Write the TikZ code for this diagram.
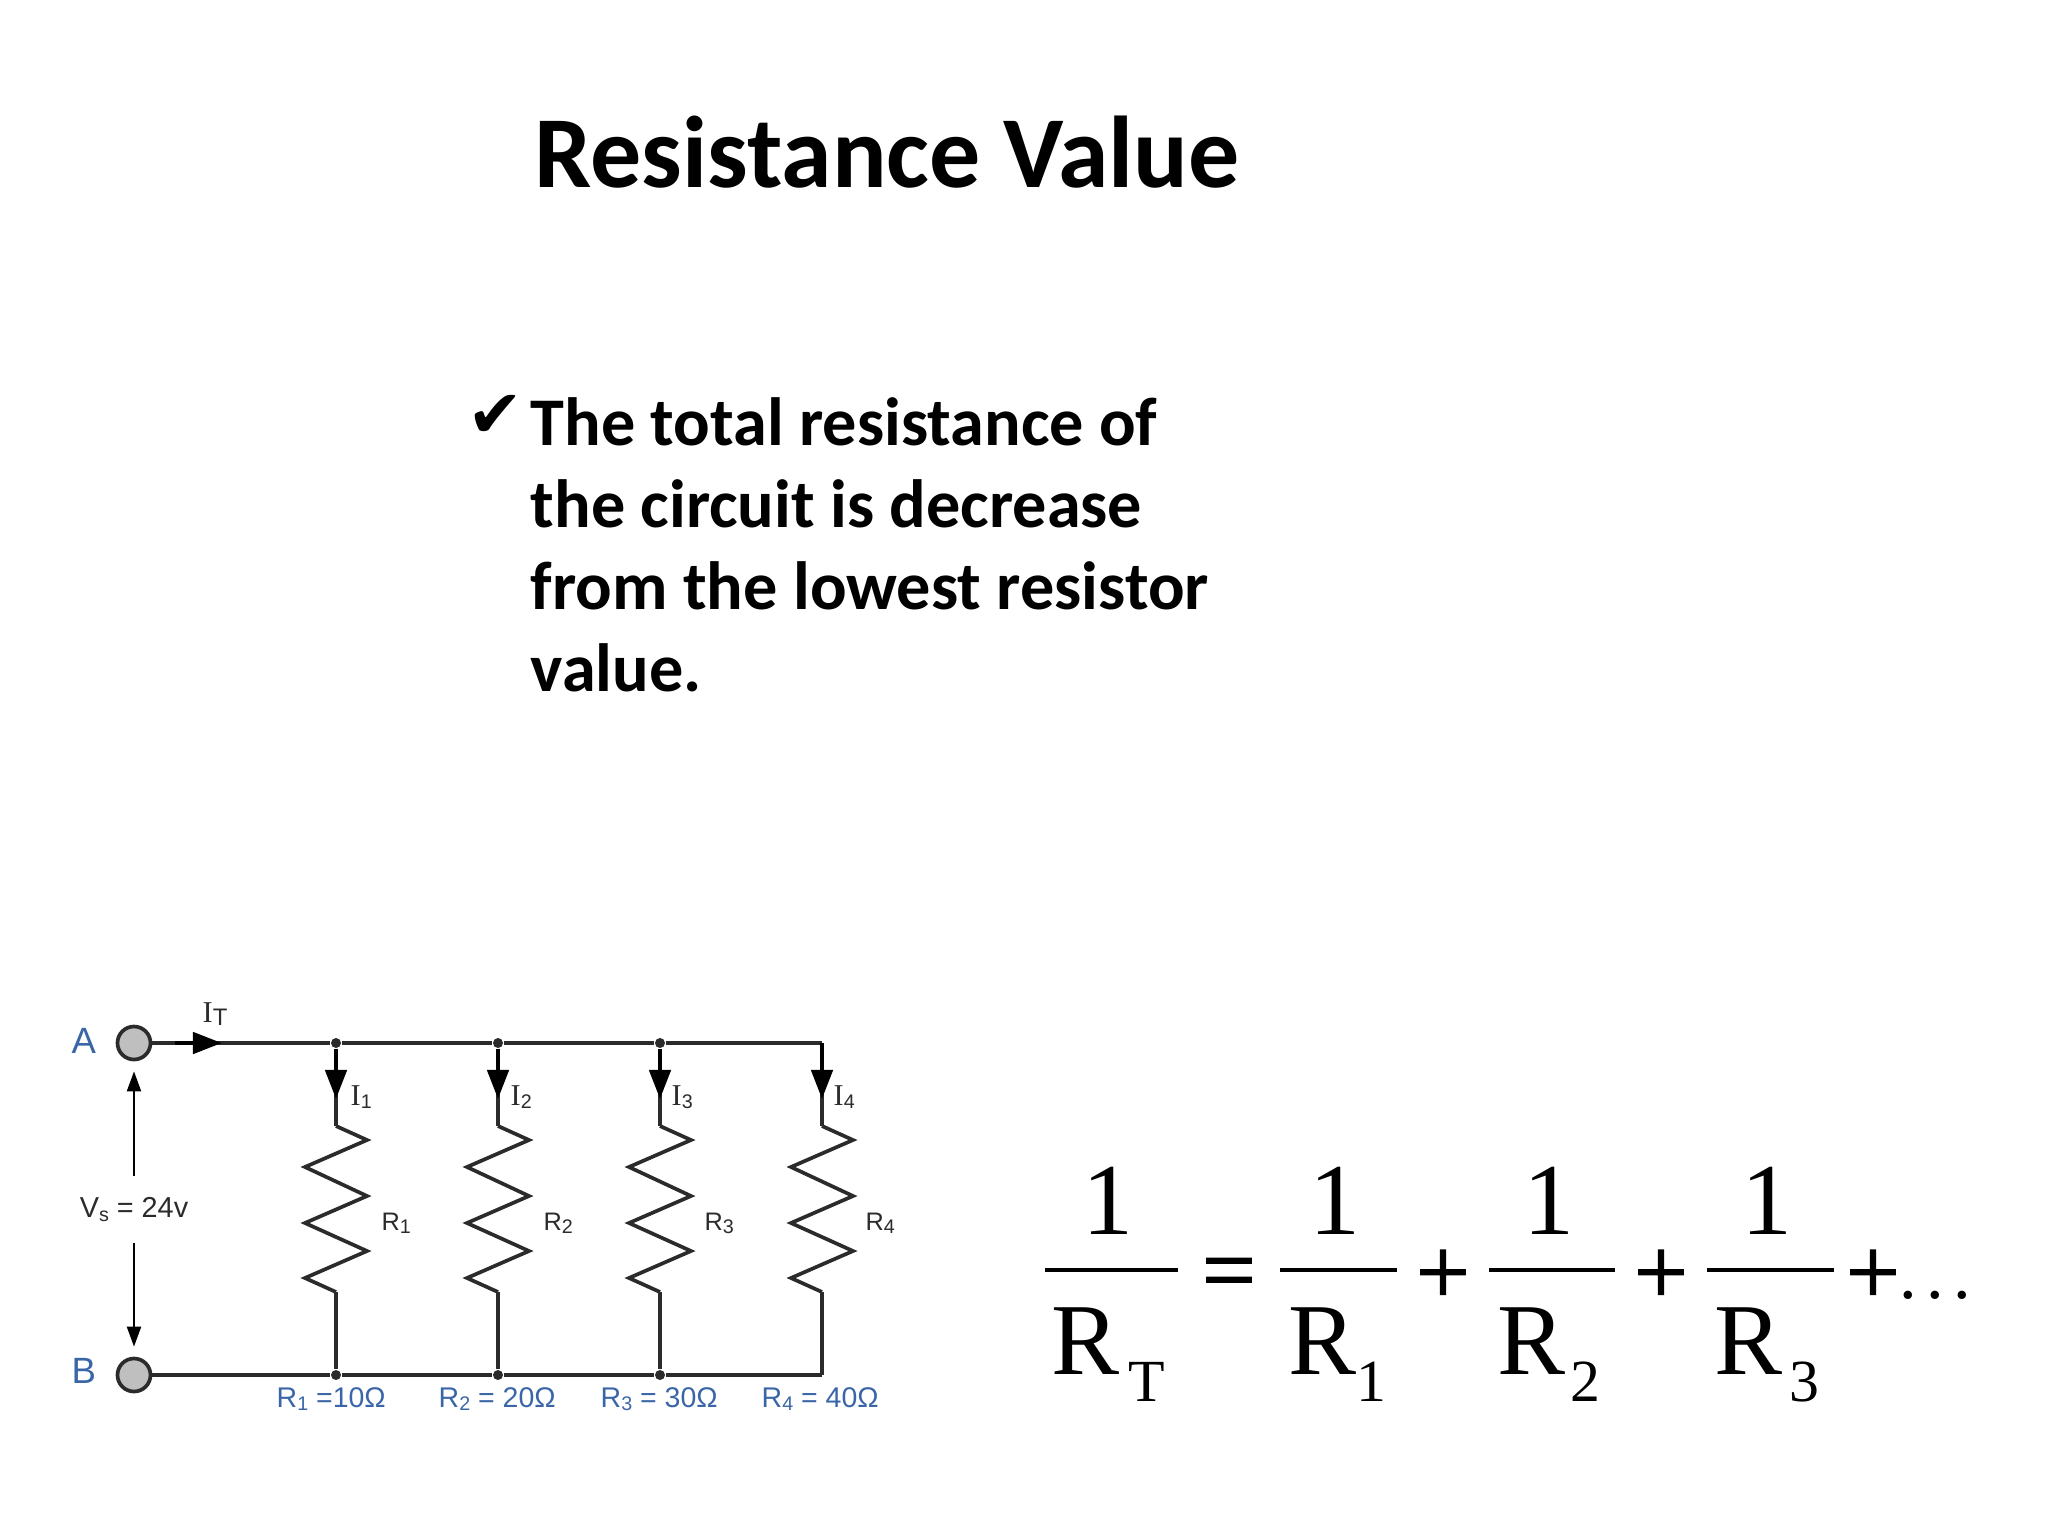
\documentclass[tikz,border=0pt]{standalone}
\usepackage{fontspec}
\setmainfont{Carlito}
\newfontfamily\armfont{Liberation Sans}
\newfontfamily\timesfont{Liberation Serif}
\newfontfamily\opfont[FakeBold=1.6]{Liberation Serif}
\newfontfamily\symfont{DejaVu Sans}
\usetikzlibrary{arrows.meta}
\definecolor{labelblue}{HTML}{3A66A8}
\definecolor{wiredark}{HTML}{2B2B2B}
\newcommand{\lowsub}[1]{\raisebox{-1.1pt}{\fontsize{5.6}{6}\selectfont #1}}
\tikzset{
    lbl/.style={anchor=base west, inner sep=0pt},
    cursor/.style={lbl, text=wiredark, font=\timesfont\fontsize{8.6}{10}\selectfont},
    reslbl/.style={lbl, text=wiredark, font=\armfont\fontsize{7.2}{10}\selectfont},
    vallbl/.style={lbl, text=labelblue, font=\armfont\fontsize{8.1}{10}\selectfont},
    termlbl/.style={lbl, text=labelblue, font=\armfont\fontsize{10.4}{12}\selectfont},
    eqbig/.style={lbl, font=\timesfont\fontsize{29}{30}\selectfont},
    eqsub/.style={lbl, font=\timesfont\fontsize{17}{20}\selectfont},
    eqop/.style={inner sep=0pt, font=\opfont\fontsize{27}{30}\selectfont},
    fracbar/.style={line width=1.3pt},
    wire/.style={draw=wiredark, line width=1.05pt},
    term/.style={circle, draw=wiredark, fill=gray!50, line width=1.05pt, inner sep=0pt, minimum size=0.33cm},
    dot/.style={circle, fill=wiredark, inner sep=0pt, minimum size=0.1cm},
    currenthead/.style={draw=black, line width=1.3pt, -{Triangle[length=0.29cm,width=0.21cm]}},
    voltarrow/.style={draw=black, line width=0.6pt, shorten >=0.1cm, -{Triangle[length=0.2cm,width=0.14cm]}},
    resistor/.style={to path={-- ++(31,14) -- ++(-62,27) -- ++(62,29) -- ++(-62,27) -- ++(62,28) -- ++(-62,27) -- (\tikztotarget)}}
}
\begin{document}
\begin{tikzpicture}[x=0.01cm, y=-0.01cm]
    \useasboundingbox (0,0) rectangle (2048,1536);

    % Heading and text
    \node[lbl, font=\bfseries\fontsize{29}{32}\selectfont] (title) at (534,187) {Resistance Value};
    \node[lbl, font=\symfont\fontsize{19}{20}\selectfont] (tick) at (467,437) {✔};
    \node[anchor=north west, inner sep=0pt, align=left, font=\bfseries\fontsize{19.4}{23.3}\selectfont] (body) at (530,397) {The total resistance of\\the circuit is decrease\\from the lowest resistor\\value.};

    % Circuit nodes
    \node[term] (A) at (134,1043) {};
    \node[term] (B) at (134,1375) {};
    \node[dot] (top1) at (336,1043) {};
    \node[dot] (top2) at (498,1043) {};
    \node[dot] (top3) at (660,1043) {};
    \node[coordinate] (top4) at (822,1043) {};
    \node[dot] (bot1) at (336,1375) {};
    \node[dot] (bot2) at (498,1375) {};
    \node[dot] (bot3) at (660,1375) {};
    \node[coordinate] (bot4) at (822,1375) {};
    \node[coordinate] (in1) at (336,1126) {};
    \node[coordinate] (in2) at (498,1126) {};
    \node[coordinate] (in3) at (660,1126) {};
    \node[coordinate] (in4) at (822,1126) {};
    \node[coordinate] (out1) at (336,1292) {};
    \node[coordinate] (out2) at (498,1292) {};
    \node[coordinate] (out3) at (660,1292) {};
    \node[coordinate] (out4) at (822,1292) {};
    \node[coordinate] (headT) at (222,1043) {};
    \node[coordinate] (head1) at (336,1099) {};
    \node[coordinate] (head2) at (498,1099) {};
    \node[coordinate] (head3) at (660,1099) {};
    \node[coordinate] (head4) at (822,1099) {};
    \node[coordinate] (startT) at (175,1043) {};
    \node[inner sep=0pt, minimum height=0.65cm, text=wiredark, font=\armfont\fontsize{8.2}{10}\selectfont] (vs) at (134,1209.5) {V\lowsub{s} = 24v};

    % Circuit labels
    \node[termlbl] (labelA) at (71,1053) {A};
    \node[termlbl] (labelB) at (71,1383) {B};
    \node[cursor] (iT) at (202,1022) {I{\armfont\raisebox{-1.1pt}{\fontsize{6.8}{8}\selectfont T}}};
    \node[cursor] (i1) at (350,1105) {I\lowsub{\armfont 1}};
    \node[cursor] (i2) at (510,1105) {I\lowsub{\armfont 2}};
    \node[cursor] (i3) at (671,1105) {I\lowsub{\armfont 3}};
    \node[cursor] (i4) at (833,1105) {I\lowsub{\armfont 4}};
    \node[reslbl] (r1) at (381,1230) {R\lowsub{1}};
    \node[reslbl] (r2) at (543,1230) {R\lowsub{2}};
    \node[reslbl] (r3) at (704,1230) {R\lowsub{3}};
    \node[reslbl] (r4) at (865,1230) {R\lowsub{4}};
    \node[vallbl] (val1) at (276,1407) {R\lowsub{1} =10Ω};
    \node[vallbl] (val2) at (438,1407) {R\lowsub{2} = 20Ω};
    \node[vallbl] (val3) at (600,1407) {R\lowsub{3} = 30Ω};
    \node[vallbl] (val4) at (761,1407) {R\lowsub{4} = 40Ω};

    % Circuit edges
    \draw[wire] (A) -- (top1) -- (top2) -- (top3) -- (top4);
    \draw[wire] (B) -- (bot1) -- (bot2) -- (bot3) -- (bot4);
    \draw[wire] (top1) -- (in1);
    \draw[wire] (top2) -- (in2);
    \draw[wire] (top3) -- (in3);
    \draw[wire] (top4) -- (in4);
    \draw[wire] (in1) to[resistor] (out1);
    \draw[wire] (in2) to[resistor] (out2);
    \draw[wire] (in3) to[resistor] (out3);
    \draw[wire] (in4) to[resistor] (out4);
    \draw[wire] (out1) -- (bot1);
    \draw[wire] (out2) -- (bot2);
    \draw[wire] (out3) -- (bot3);
    \draw[wire] (out4) -- (bot4);
    \draw[currenthead] (startT) -- (headT);
    \draw[currenthead] (top1) -- (head1);
    \draw[currenthead] (top2) -- (head2);
    \draw[currenthead] (top3) -- (head3);
    \draw[currenthead] (top4) -- (head4);
    \draw[voltarrow] (vs) -- (A);
    \draw[voltarrow] (vs) -- (B);

    % Equation
    \node[eqbig, anchor=base] (oneT) at (1108,1234) {1};
    \node[eqbig, anchor=base] (one1) at (1335,1234) {1};
    \node[eqbig, anchor=base] (one2) at (1549,1234) {1};
    \node[eqbig, anchor=base] (one3) at (1767,1234) {1};
    \draw[fracbar] (1045,1270) -- (1178,1270);
    \draw[fracbar] (1280,1270) -- (1397,1270);
    \draw[fracbar] (1489,1270) -- (1615,1270);
    \draw[fracbar] (1707,1270) -- (1834,1270);
    \node[eqbig] (rT) at (1051,1374) {R};
    \node[eqbig] (r1eq) at (1288,1374) {R};
    \node[eqbig] (r2eq) at (1497,1374) {R};
    \node[eqbig] (r3eq) at (1714,1374) {R};
    \node[eqsub] (subT) at (1128,1401) {T};
    \node[eqsub, anchor=base] (sub1) at (1371,1401) {1};
    \node[eqsub, anchor=base] (sub2) at (1585,1401) {2};
    \node[eqsub, anchor=base] (sub3) at (1804,1401) {3};
    \node[eqop] (eq) at (1229,1280) {=};
    \node[eqop] (plus1) at (1443,1277) {+};
    \node[eqop] (plus2) at (1661,1277) {+};
    \node[eqop] (plus3) at (1873,1277) {+};
    \node[lbl, font=\timesfont\fontsize{20}{22}\selectfont] (dots) at (1899,1298) {.\hspace{2.6pt}.\hspace{2.6pt}.};
\end{tikzpicture}
\end{document}
